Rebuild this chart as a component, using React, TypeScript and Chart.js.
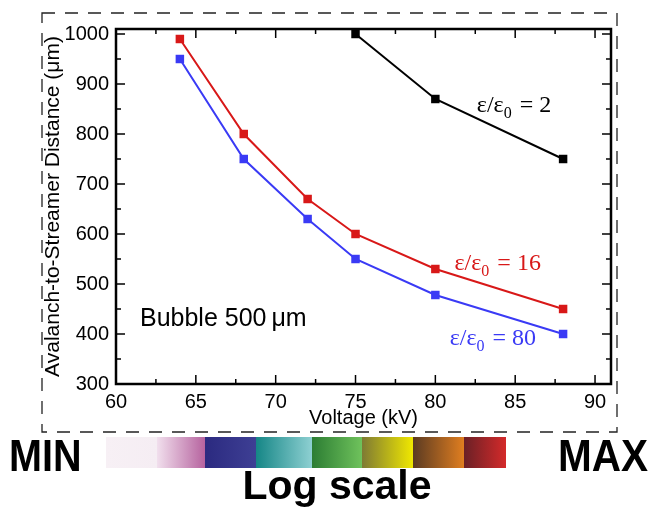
import React, { useEffect, useRef } from "react";
import { Chart, registerables } from "chart.js";

Chart.register(...registerables);

// ---- data ----
const voltageAll = [64, 68, 72, 75, 80, 88];
const voltageEps2 = [75, 80, 88];
const distEps2 = [1000, 870, 750];
const distEps16 = [990, 800, 670, 600, 530, 450];
const distEps80 = [950, 750, 630, 550, 478, 400];

const xMajorTicks = [60, 65, 70, 75, 80, 85, 90];
const xMinorTicks = [62.5, 67.5, 72.5, 77.5, 82.5, 87.5];
const yMajorTicks = [300, 400, 500, 600, 700, 800, 900, 1000];
const yMinorTicks = [350, 450, 550, 650, 750, 850, 950];

const seriesNames = ["2", "16", "80"];
const seriesColors = ["#000000", "#d81818", "#3a3af5"];
// label anchor (data coordinates: voltage, distance)
const labelVoltage = [82.6, 81.2, 80.9];
const labelDistance = [844, 528, 378];

const bubbleText = "Bubble 500\u2009\u03bcm";
const bubbleAnchor = [61.5, 416];

// colour bar stops (left colour, right colour)
const barColors: [string, string][] = [
  ["#f7f0f5", "#f5edf3"],
  ["#f1dfed", "#b6639f"],
  ["#2b2a80", "#3e3f94"],
  ["#158686", "#8ed0d2"],
  ["#2c7d33", "#6fc25c"],
  ["#7e7a34", "#f0e800"],
  ["#5a3a22", "#e07e20"],
  ["#6a2026", "#d42a2a"],
];

const SANS = "'Liberation Sans', Arial, sans-serif";
const SERIF = "'Liberation Serif', 'Times New Roman', serif";

const decorPlugin = {
  id: "decor",
  beforeDatasetsDraw(chart: any) {
    const { ctx, chartArea } = chart;
    const { left, right, top, bottom } = chartArea;
    const xs = chart.scales.x;
    const ys = chart.scales.y;
    ctx.save();
    ctx.strokeStyle = "#000";
    ctx.lineWidth = 1.5;
    const line = (x1: number, y1: number, x2: number, y2: number) => {
      ctx.beginPath();
      ctx.moveTo(x1, y1);
      ctx.lineTo(x2, y2);
      ctx.stroke();
    };
    const tickX = (vals: number[], len: number) => {
      for (const v of vals) {
        const px = xs.getPixelForValue(v);
        line(px, bottom, px, bottom - len);
        line(px, top, px, top + len);
      }
    };
    const tickY = (vals: number[], len: number) => {
      for (const v of vals) {
        const py = ys.getPixelForValue(v);
        line(left, py, left + len, py);
        line(right, py, right - len, py);
      }
    };
    tickX(xMajorTicks, 9);
    tickX(xMinorTicks, 5);
    tickY(yMajorTicks, 9);
    tickY(yMinorTicks, 5);
    ctx.lineWidth = 2.5;
    ctx.strokeRect(left, top, right - left, bottom - top);
    ctx.restore();
  },
  afterDraw(chart: any) {
    const { ctx } = chart;
    const xs = chart.scales.x;
    const ys = chart.scales.y;
    ctx.save();

    // dashed frame
    ctx.setLineDash([13, 10]);
    ctx.strokeStyle = "#222";
    ctx.lineWidth = 1.3;
    ctx.strokeRect(42, 13, 575, 419);
    ctx.setLineDash([]);

    // series labels
    for (let i = 0; i < seriesNames.length; i++) {
      const x = xs.getPixelForValue(labelVoltage[i]);
      const y = ys.getPixelForValue(labelDistance[i]);
      ctx.fillStyle = seriesColors[i];
      ctx.textBaseline = "alphabetic";
      ctx.textAlign = "left";
      ctx.font = `24px ${SERIF}`;
      ctx.fillText("\u03b5/\u03b5", x, y);
      let w = ctx.measureText("\u03b5/\u03b5").width;
      ctx.font = `16px ${SERIF}`;
      ctx.fillText("0", x + w, y + 6);
      w += ctx.measureText("0").width;
      ctx.font = `24px ${SERIF}`;
      ctx.fillText(" = " + seriesNames[i], x + w + 2, y);
    }

    // bubble text
    ctx.fillStyle = "#000";
    ctx.font = `25px ${SANS}`;
    ctx.fillText(
      bubbleText,
      xs.getPixelForValue(bubbleAnchor[0]),
      ys.getPixelForValue(bubbleAnchor[1])
    );

    // colour bar
    const edges = [106, 157, 205, 256, 312, 362, 413, 464, 506];
    for (let i = 0; i < barColors.length; i++) {
      const x0 = edges[i];
      const x1 = edges[i + 1];
      const g = ctx.createLinearGradient(x0, 0, x1, 0);
      g.addColorStop(0, barColors[i][0]);
      g.addColorStop(1, barColors[i][1]);
      ctx.fillStyle = g;
      ctx.fillRect(x0, 437, x1 - x0, 31);
    }

    // MIN / MAX / Log scale
    ctx.fillStyle = "#000";
    ctx.font = `bold 45px ${SANS}`;
    ctx.save();
    ctx.translate(9, 471);
    ctx.scale(0.88, 1);
    ctx.fillText("MIN", 0, 0);
    ctx.restore();
    ctx.save();
    ctx.translate(558, 471);
    ctx.scale(0.9, 1);
    ctx.fillText("MAX", 0, 0);
    ctx.restore();
    ctx.font = `bold 41px ${SANS}`;
    ctx.textAlign = "center";
    ctx.fillText("Log scale", 337, 499);
    ctx.restore();
  },
};

export default function App() {
  const ref = useRef<HTMLCanvasElement | null>(null);
  useEffect(() => {
    if (!ref.current) return;
    const mk = (xs: number[], ys: number[]) => xs.map((x, i) => ({ x, y: ys[i] }));
    const ds = (label: string, data: any[], color: string) => ({
      label,
      data,
      borderColor: color,
      backgroundColor: color,
      borderWidth: 2,
      pointStyle: "rect" as const,
      pointRadius: 6,
      pointBorderWidth: 0,
      pointHoverRadius: 6,
      tension: 0,
      clip: false as const,
    });
    const chart = new Chart(ref.current, {
      type: "line",
      data: {
        datasets: [
          ds("ε/ε0 = 2", mk(voltageEps2, distEps2), seriesColors[0]),
          ds("ε/ε0 = 16", mk(voltageAll, distEps16), seriesColors[1]),
          ds("ε/ε0 = 80", mk(voltageAll, distEps80), seriesColors[2]),
        ],
      },
      options: {
        animation: false,
        responsive: false,
        devicePixelRatio: 1,
        layout: { padding: { top: 29, right: 39, left: 0, bottom: 0 } },
        plugins: { legend: { display: false }, tooltip: { enabled: false }, title: { display: false } },
        scales: {
          x: {
            type: "linear",
            min: 60,
            max: 91,
            grid: { display: false, drawTicks: false },
            border: { display: false },
            afterBuildTicks: (s: any) => {
              s.ticks = xMajorTicks.map((v) => ({ value: v }));
            },
            afterFit: (s: any) => {
              s.height = 125;
            },
            ticks: {
              color: "#000",
              padding: 6,
              maxRotation: 0,
              autoSkip: false,
              font: { family: SANS, size: 20 },
              callback: (v: any) => String(v),
            },
            title: {
              display: true,
              text: "Voltage (kV)",
              color: "#000",
              font: { family: SANS, size: 20 },
              padding: { top: 0, bottom: 79 },
            },
          },
          y: {
            type: "linear",
            min: 300,
            max: 1010,
            grid: { display: false, drawTicks: false },
            border: { display: false },
            afterBuildTicks: (s: any) => {
              s.ticks = yMajorTicks.map((v) => ({ value: v }));
            },
            afterFit: (s: any) => {
              s.width = 116;
            },
            ticks: {
              color: "#000",
              padding: 7,
              autoSkip: false,
              font: { family: SANS, size: 20 },
              callback: (v: any) => String(v),
            },
            title: {
              display: true,
              text: "Avalanch-to-Streamer Distance (\u03bcm)",
              color: "#000",
              font: { family: SANS, size: 21 },
              padding: { top: 41, bottom: 0 },
            },
          },
        },
      },
      plugins: [decorPlugin],
    });
    return () => chart.destroy();
  }, []);
  return (
    <div style={{ position: "absolute", left: 0, top: 0, width: 650, height: 509, background: "#fff" }}>
      <canvas ref={ref} width={650} height={509} style={{ display: "block", width: 650, height: 509 }} />
    </div>
  );
}
